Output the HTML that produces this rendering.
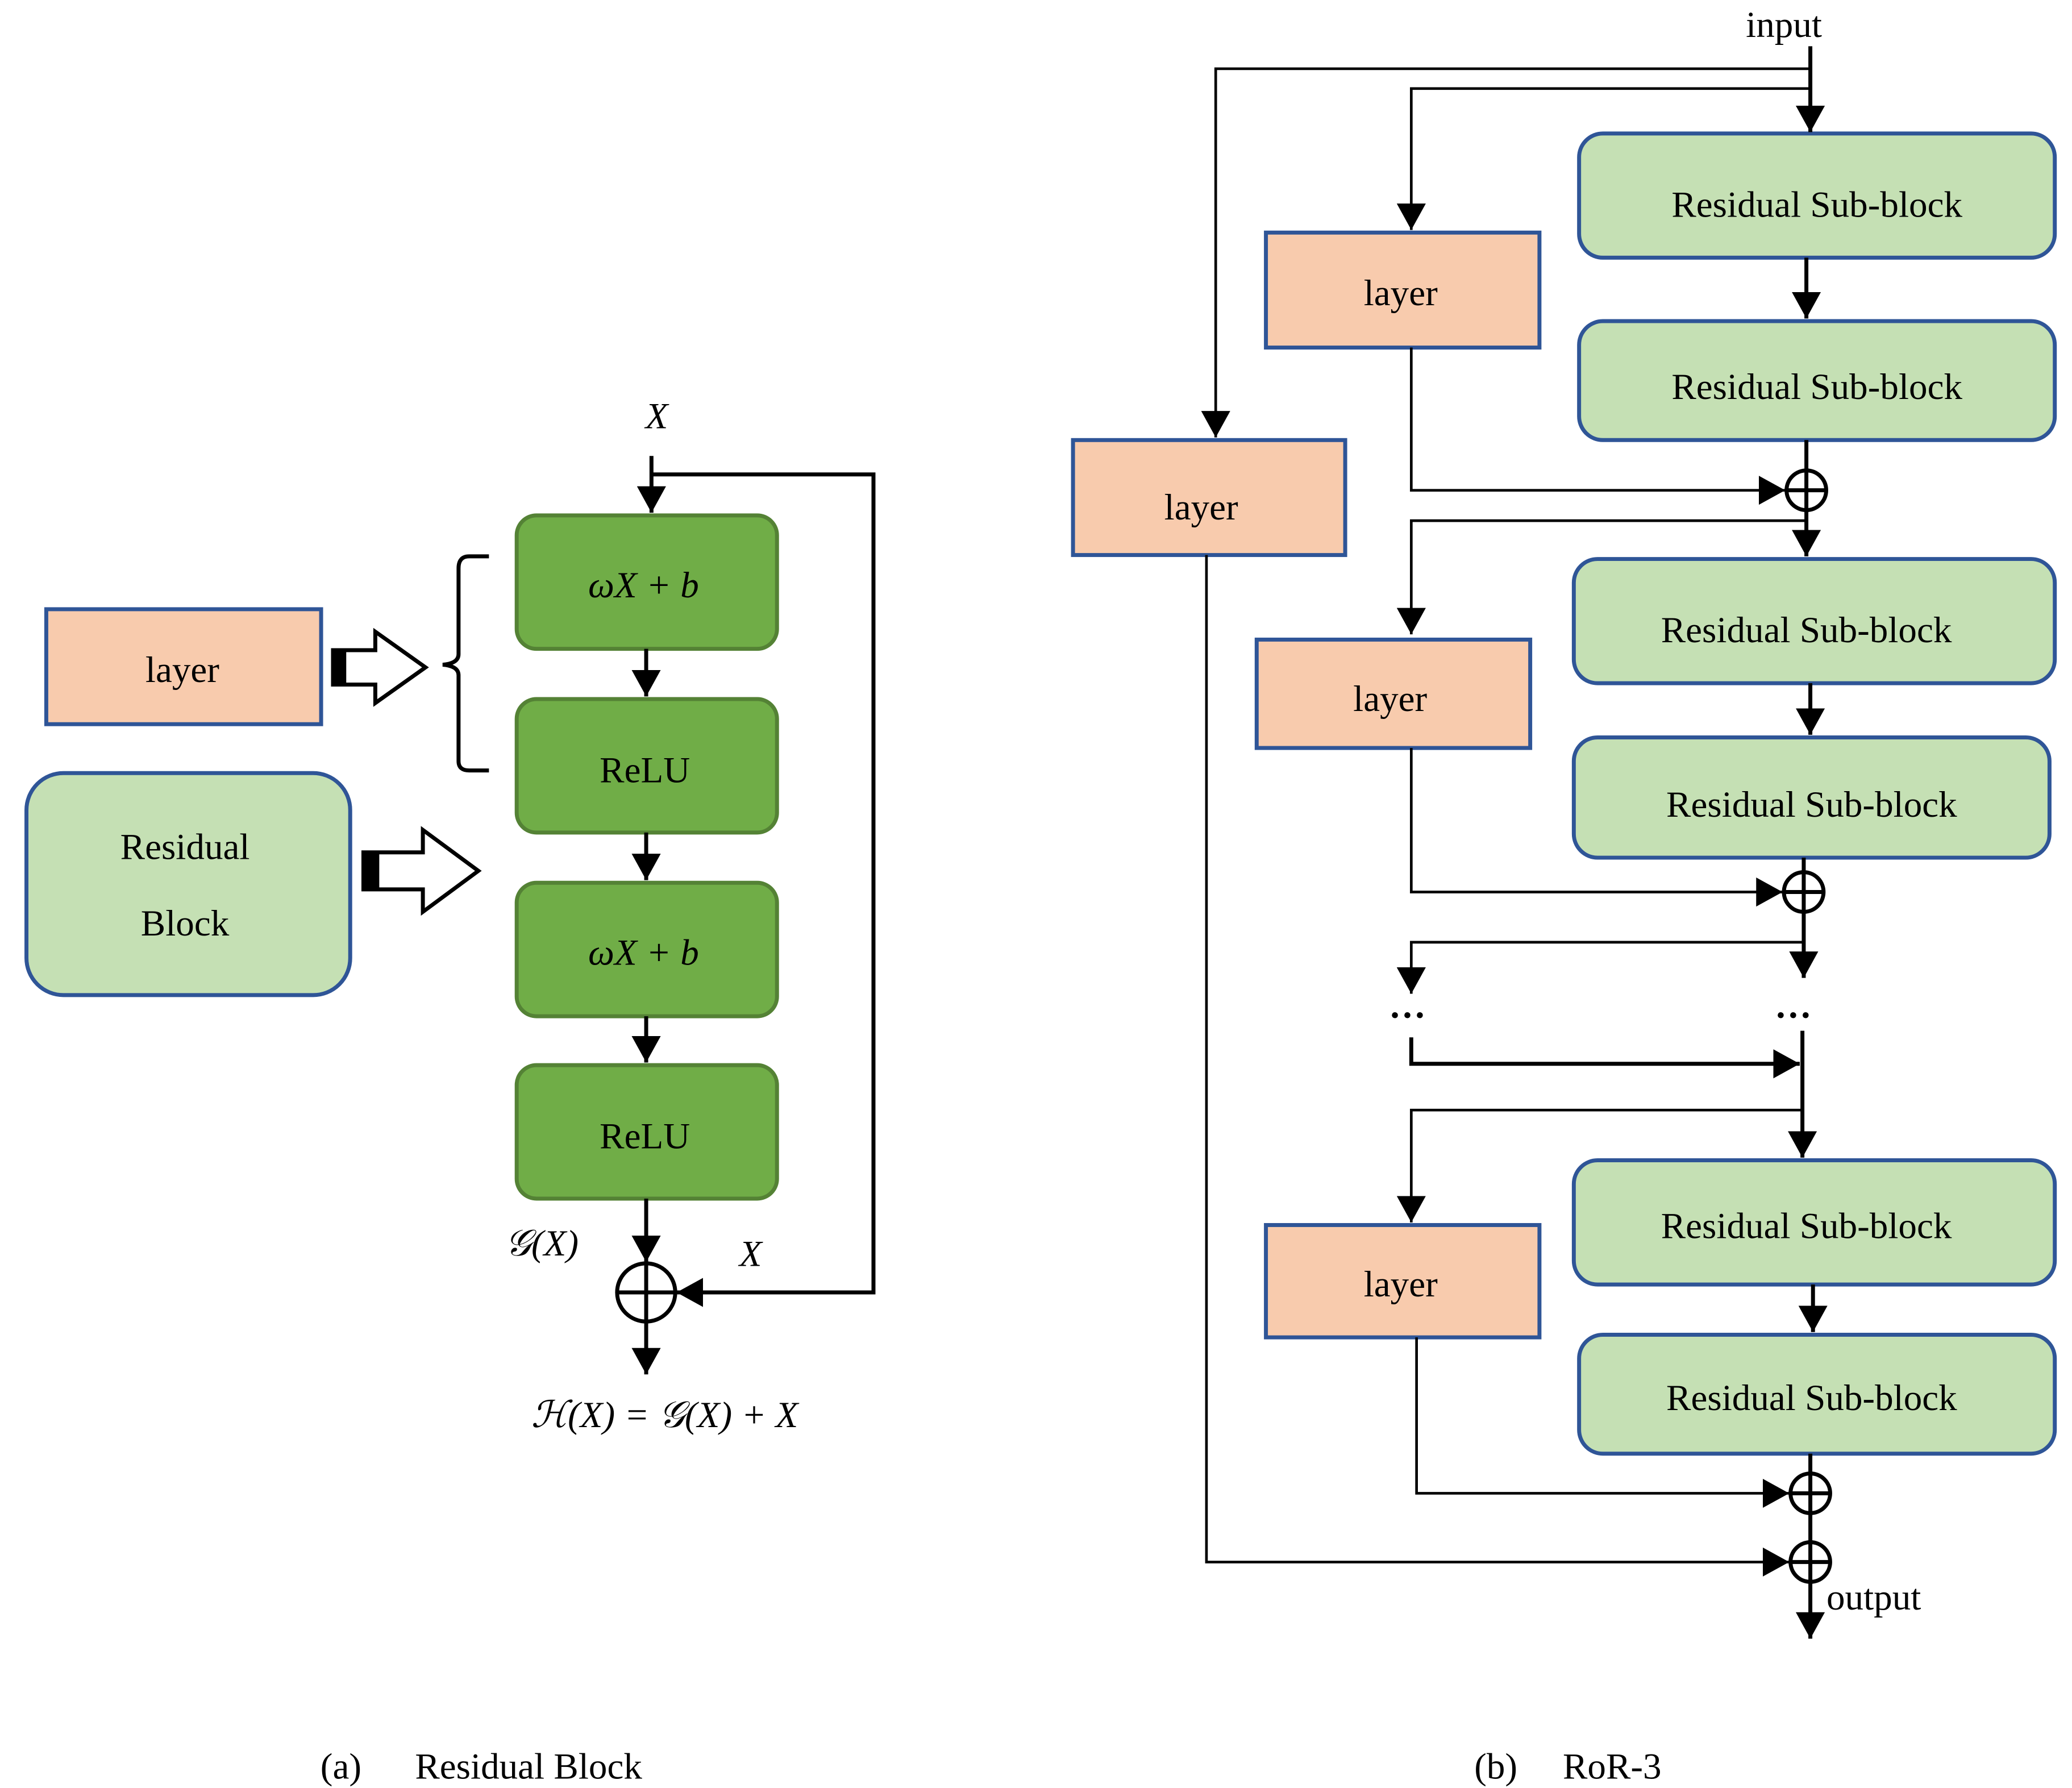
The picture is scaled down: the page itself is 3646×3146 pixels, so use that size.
<!DOCTYPE html>
<html><head><style>html,body{margin:0;padding:0;background:#fff}svg{display:block}</style></head>
<body>
<svg width="3646" height="3146" viewBox="0 0 1568 1353" xmlns="http://www.w3.org/2000/svg" font-family="Liberation Serif, serif">
<defs>
<marker id="b" markerWidth="20" markerHeight="22" refX="20" refY="11" orient="auto" markerUnits="userSpaceOnUse" viewBox="0 0 20 22"><path d="M0,0 L20,11 L0,22 z" fill="#000"/></marker>
</defs>
<rect width="1568" height="1353" fill="#fff"/>
<g stroke="#2f5597" stroke-width="3">
<rect x="35" y="461" width="208" height="87" fill="#f8cbad"/>
<rect x="20" y="585" width="245" height="168" rx="28" fill="#c5e0b4"/>
</g>
<g font-size="28" text-anchor="middle">
<text x="138" y="516">layer</text>
<text x="140" y="650">Residual</text>
<text x="140" y="708">Block</text>
</g>
<g fill="#fff" stroke="#000" stroke-width="3">
<path d="M252,492 H284 V478 L322,505 L284,532 V518 H252 Z"/>
<path d="M275,645 H320 V628 L362,659 L320,690 V673 H275 Z"/>
</g>
<rect x="252" y="492" width="10" height="26" fill="#000"/>
<rect x="275" y="645" width="12" height="28" fill="#000"/>
<path d="M370,421 H355 Q347,421 347,430 V495 Q347,502 335,503 Q347,504 347,511 V576 Q347,583 355,583 H370" fill="none" stroke="#000" stroke-width="3"/>
<g fill="#70ad47" stroke="#548235" stroke-width="3">
<rect x="391" y="390" width="197" height="101" rx="15"/>
<rect x="391" y="529" width="197" height="101" rx="15"/>
<rect x="391" y="668" width="197" height="101" rx="15"/>
<rect x="391" y="806" width="197" height="101" rx="15"/>
</g>
<g font-size="28" text-anchor="middle">
<text x="487" y="452" font-style="italic">ωX + b</text>
<text x="488" y="592">ReLU</text>
<text x="487" y="730" font-style="italic">ωX + b</text>
<text x="488" y="869">ReLU</text>
<text x="497" y="324" font-style="italic">X</text>
<text x="410" y="950" font-style="italic">𝒢(X)</text>
<text x="568" y="958" font-style="italic">X</text>
<text x="503" y="1080" font-style="italic">ℋ(X) = 𝒢(X) + X</text>
<text x="258" y="1346">(a)</text>
<text x="400" y="1346">Residual Block</text>
<text x="1132" y="1346">(b)</text>
<text x="1220" y="1346">RoR-3</text>
</g>
<g stroke="#000" stroke-width="3" fill="none">
<line x1="493" y1="345" x2="493" y2="388" marker-end="url(#b)"/>
<polyline points="493,359 661,359 661,978 512,978" marker-end="url(#b)"/>
<line x1="489" y1="491" x2="489" y2="527" marker-end="url(#b)"/>
<line x1="489" y1="630" x2="489" y2="666" marker-end="url(#b)"/>
<line x1="489" y1="769" x2="489" y2="804" marker-end="url(#b)"/>
<line x1="489" y1="907" x2="489" y2="955" marker-end="url(#b)"/>
<circle cx="489" cy="978" r="22"/>
<line x1="467" y1="978" x2="511" y2="978"/><line x1="489" y1="956" x2="489" y2="1000"/>
<line x1="489" y1="1000" x2="489" y2="1040" marker-end="url(#b)"/>
</g>
<g stroke="#2f5597" stroke-width="3">
<rect x="812" y="333" width="206" height="87" fill="#f8cbad"/>
<rect x="958" y="176" width="207" height="87" fill="#f8cbad"/>
<rect x="951" y="484" width="207" height="82" fill="#f8cbad"/>
<rect x="958" y="927" width="207" height="85" fill="#f8cbad"/>
<g fill="#c5e0b4">
<rect x="1195" y="101" width="360" height="94" rx="18"/>
<rect x="1195" y="243" width="360" height="90" rx="18"/>
<rect x="1191" y="423" width="364" height="94" rx="18"/>
<rect x="1191" y="558" width="360" height="91" rx="18"/>
<rect x="1191" y="878" width="364" height="94" rx="18"/>
<rect x="1195" y="1010" width="360" height="90" rx="18"/>
</g>
</g>
<g font-size="28" text-anchor="middle">
<text x="909" y="393">layer</text>
<text x="1060" y="231">layer</text>
<text x="1052" y="538">layer</text>
<text x="1060" y="981">layer</text>
<text x="1375" y="164">Residual Sub-block</text>
<text x="1375" y="302">Residual Sub-block</text>
<text x="1367" y="486">Residual Sub-block</text>
<text x="1371" y="618">Residual Sub-block</text>
<text x="1367" y="937">Residual Sub-block</text>
<text x="1371" y="1067">Residual Sub-block</text>
<text x="1350" y="28">input</text>
<text x="1418" y="1218">output</text>
<text x="1065" y="770" font-weight="bold">…</text>
<text x="1357" y="770" font-weight="bold">…</text>
</g>
<g stroke="#000" stroke-width="3" fill="none">
<line x1="1370" y1="35" x2="1370" y2="100" marker-end="url(#b)"/>
<polyline points="1370,52 920,52 920,331" stroke-width="2" marker-end="url(#b)"/>
<polyline points="1370,67 1068,67 1068,174" stroke-width="2" marker-end="url(#b)"/>
<polyline points="913,420 913,1182 1354,1182" stroke-width="2" marker-end="url(#b)"/>
<line x1="1367" y1="195" x2="1367" y2="241" marker-end="url(#b)"/>
<line x1="1367" y1="333" x2="1367" y2="356"/>
<polyline points="1068,263 1068,371 1351,371" stroke-width="2" marker-end="url(#b)"/>
<circle cx="1367" cy="371" r="15"/><line x1="1352" y1="371" x2="1382" y2="371"/><line x1="1367" y1="356" x2="1367" y2="386"/>
<line x1="1367" y1="386" x2="1367" y2="421" marker-end="url(#b)"/>
<polyline points="1367,394 1068,394 1068,480" stroke-width="2" marker-end="url(#b)"/>
<line x1="1370" y1="517" x2="1370" y2="556" marker-end="url(#b)"/>
<line x1="1365" y1="649" x2="1365" y2="660"/>
<polyline points="1068,566 1068,675 1349,675" stroke-width="2" marker-end="url(#b)"/>
<circle cx="1365" cy="675" r="15"/><line x1="1350" y1="675" x2="1380" y2="675"/><line x1="1365" y1="660" x2="1365" y2="690"/>
<line x1="1365" y1="690" x2="1365" y2="740" marker-end="url(#b)"/>
<polyline points="1365,713 1068,713 1068,752" stroke-width="2" marker-end="url(#b)"/>
<polyline points="1068,785 1068,805 1362,805" marker-end="url(#b)"/>
<line x1="1364" y1="780" x2="1364" y2="876" marker-end="url(#b)"/>
<polyline points="1364,840 1068,840 1068,925" stroke-width="2" marker-end="url(#b)"/>
<line x1="1372" y1="972" x2="1372" y2="1008" marker-end="url(#b)"/>
<line x1="1370" y1="1100" x2="1370" y2="1115"/>
<polyline points="1072,1012 1072,1130 1354,1130" stroke-width="2" marker-end="url(#b)"/>
<circle cx="1370" cy="1130" r="15"/><line x1="1355" y1="1130" x2="1385" y2="1130"/><line x1="1370" y1="1115" x2="1370" y2="1145"/>
<line x1="1370" y1="1145" x2="1370" y2="1167"/>
<circle cx="1370" cy="1182" r="15"/><line x1="1355" y1="1182" x2="1385" y2="1182"/><line x1="1370" y1="1167" x2="1370" y2="1197"/>
<line x1="1370" y1="1197" x2="1370" y2="1240" marker-end="url(#b)"/>
</g>
</svg>
</body></html>
